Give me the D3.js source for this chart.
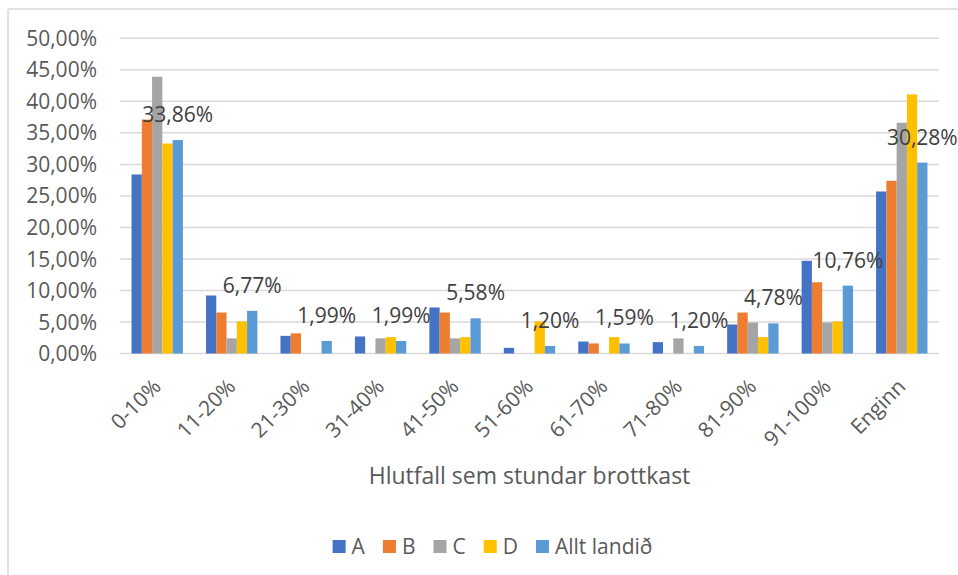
<!DOCTYPE html>
<html><head><meta charset="utf-8">
<script src="https://cdn.jsdelivr.net/npm/d3@7"></script>
<style>
html,body{margin:0;padding:0;background:#fff;}
svg{display:block;font-family:"Open Sans",sans-serif;}
</style></head>
<body>
<svg id="chart" width="958" height="575"></svg>
<script>
const categories = ["0-10%","11-20%","21-30%","31-40%","41-50%","51-60%","61-70%","71-80%","81-90%","91-100%","Enginn"];
const seriesNames = ["A","B","C","D","Allt landið"];
const valuesA = [28.4, 9.2, 2.8, 2.7, 7.3, 0.9, 1.9, 1.8, 4.6, 14.7, 25.7];
const valuesB = [37.1, 6.5, 3.2, 0, 6.5, 0, 1.6, 0, 6.5, 11.3, 27.4];
const valuesC = [43.9, 2.4, 0, 2.4, 2.4, 0, 0, 2.4, 4.9, 4.9, 36.6];
const valuesD = [33.3, 5.1, 0, 2.6, 2.6, 5.1, 2.6, 0, 2.6, 5.1, 41.1];
const valuesAllt = [33.86, 6.77, 1.99, 1.99, 5.58, 1.20, 1.59, 1.20, 4.78, 10.76, 30.28];
const colors = ["#4472C4","#ED7D31","#A5A5A5","#FFC000","#5B9BD5"];
const yTicks = [0,5,10,15,20,25,30,35,40,45,50];
const xTitle = "Hlutfall sem stundar brottkast";

const allSeries = [valuesA, valuesB, valuesC, valuesD, valuesAllt];
const fmt = v => v.toFixed(2).replace(".", ",") + "%";

const svg = d3.select("#chart");

// chart border (top & left visible)
svg.append("line").attr("x1",8).attr("x2",958).attr("y1",9).attr("y2",9).attr("stroke","#d9d9d9").attr("stroke-width",1.5);
svg.append("line").attr("x1",8).attr("x2",8).attr("y1",9).attr("y2",575).attr("stroke","#d9d9d9").attr("stroke-width",1.5);

const pLeft = 120, pRight = 939, pTop = 38.3, pBottom = 353.5;
const y = d3.scaleLinear().domain([0,50]).range([pBottom, pTop]);
const x0 = d3.scaleBand().domain(categories).range([pLeft, pRight]).paddingInner(0.31).paddingOuter(0.155);
const x1 = d3.scaleBand().domain(seriesNames).range([0, x0.bandwidth()]).padding(0);

// gridlines
svg.append("g").selectAll("line").data(yTicks).join("line")
  .attr("x1", pLeft).attr("x2", pRight)
  .attr("y1", d => y(d)).attr("y2", d => y(d))
  .attr("stroke", "#d9d9d9").attr("stroke-width", 1.5);

// y tick labels
svg.append("g").selectAll("text").data(yTicks).join("text")
  .attr("x", 97).attr("y", d => y(d)).attr("dy", "0.36em")
  .attr("text-anchor", "end").attr("fill", "#595959").attr("font-size", 21)
  .text(d => fmt(d));

// bars
const groups = svg.append("g").selectAll("g").data(categories).join("g")
  .attr("transform", d => `translate(${x0(d)},0)`);
groups.selectAll("rect").data((c, i) => seriesNames.map((s, j) => ({s, v: allSeries[j][i], j})))
  .join("rect")
  .attr("x", d => x1(d.s)).attr("width", x1.bandwidth())
  .attr("y", d => y(d.v)).attr("height", d => pBottom - y(d.v))
  .attr("fill", d => colors[d.j]);

// data labels for Allt landið
svg.append("g").selectAll("text").data(categories).join("text")
  .attr("x", (c) => x0(c) + x1("Allt landið") + x1.bandwidth()/2)
  .attr("y", (c, i) => y(valuesAllt[i]) - 18)
  .attr("text-anchor", "middle").attr("fill", "#404040").attr("font-size", 21)
  .text((c, i) => fmt(valuesAllt[i]));

// x category labels
svg.append("g").selectAll("text").data(categories).join("text")
  .attr("transform", c => `translate(${x0(c) + x0.bandwidth()/2 + 5},388) rotate(-45)`)
  .attr("text-anchor", "end").attr("fill", "#595959").attr("font-size", 21)
  .text(c => c);

// x axis title
svg.append("text").attr("x", (pLeft + pRight)/2).attr("y", 484)
  .attr("text-anchor", "middle").attr("fill", "#595959").attr("font-size", 23)
  .text(xTitle);

// legend
const lg = svg.append("g");
let lx = 0;
seriesNames.forEach((s, i) => {
  const g = lg.append("g");
  g.append("rect").attr("x", 0).attr("y", 540).attr("width", 13).attr("height", 13).attr("fill", colors[i]);
  const t = g.append("text").attr("x", 19).attr("y", 554).attr("fill", "#595959").attr("font-size", 21).text(s);
  const w = t.node().getComputedTextLength();
  g.attr("transform", `translate(${lx},0)`);
  lx += 19 + w + 18;
});
const totalW = lx - 18;
lg.attr("transform", `translate(${492.5 - totalW/2},0)`);
</script>
</body></html>
